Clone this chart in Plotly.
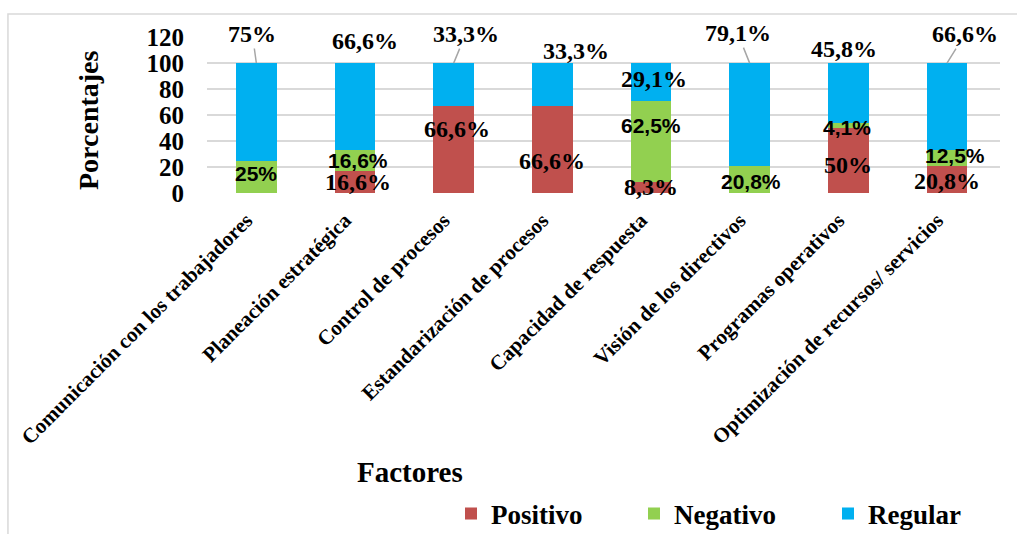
import plotly.graph_objects as go

categories = [
    "Comunicación con los trabajadores",
    "Planeación estratégica",
    "Control de procesos",
    "Estandarización de procesos",
    "Capacidad de respuesta",
    "Visión de los directivos",
    "Programas operativos",
    "Optimización de recursos/ servicios",
]
positivo = [0, 16.6, 66.6, 66.6, 8.3, 0, 50, 20.8]
negativo = [25, 16.6, 0, 0, 62.5, 20.8, 4.1, 12.5]
regular = [75, 66.6, 33.3, 33.3, 29.1, 79.1, 45.8, 66.6]
y_ticks = [0, 20, 40, 60, 80, 100, 120]

# label placement offsets (pixels) -- style only
pos_shift = [(0, 0), (3, 0), (3, 21), (0, -11), (0, 1), (0, 0), (0, -4), (0, -2)]
neg_shift = [(0, 3), (3, 0), (0, 0), (0, 0), (0, 16), (1, -2), (-1, -2), (8, 2)]
reg_shift = [(-4, 29), (10, 22), (12, 29), (24, 12), (3, -16), (-12, 30), (-4, 14), (18, 29)]
reg_leader = [True, False, True, False, False, True, False, True]

C_POS, C_NEG, C_REG = "#C0504D", "#92D050", "#00B0F0"
SERIF = "Liberation Serif"
SANS = "Liberation Sans"


def fmt(v):
    if abs(v - round(v)) < 1e-9:
        return f"{int(round(v))}%"
    return f"{v:.1f}".replace(".", ",") + "%"


fig = go.Figure()
for name, vals, col, lg in [("Positivo", positivo, C_POS, "legend"),
                            ("Negativo", negativo, C_NEG, "legend2"),
                            ("Regular", regular, C_REG, "legend3")]:
    fig.add_trace(go.Bar(x=categories, y=vals, name=name, marker_color=col,
                         marker_line_width=0, legend=lg, hoverinfo="skip"))

ann = []
lab_font = dict(family=SERIF, size=24, color="black", weight="bold")
sans_font = dict(family=SANS, size=21, color="black", weight="bold")
for i, c in enumerate(categories):
    p, n, r = positivo[i], negativo[i], regular[i]
    if p > 0:
        dx, dy = pos_shift[i]
        ann.append(dict(x=c, y=p / 2, text=fmt(p), showarrow=False, xshift=dx,
                        yshift=dy, font=lab_font))
    if n > 0:
        dx, dy = neg_shift[i]
        ann.append(dict(x=c, y=p + n / 2, text=fmt(n), showarrow=False, xshift=dx,
                        yshift=dy, font=sans_font))
    total = p + n + r
    dx, dy = reg_shift[i]
    if reg_leader[i]:
        ann.append(dict(x=c, y=total, text=fmt(r), showarrow=True, ax=dx, ay=-dy,
                        arrowhead=0, arrowwidth=1.5, arrowcolor="#a6a6a6",
                        standoff=0, font=lab_font))
    else:
        ann.append(dict(x=c, y=total, text=fmt(r), showarrow=False, xshift=dx,
                        yshift=dy, font=lab_font))

ann.append(dict(xref="paper", yref="paper", x=-0.1488, y=0.468, text="Porcentajes",
                textangle=-90, showarrow=False, xanchor="center", yanchor="middle",
                font=dict(family=SERIF, size=28, color="black", weight="bold")))
ann.append(dict(xref="paper", yref="paper", x=0.256, y=-1.788, text="Factores",
                showarrow=False, xanchor="center", yanchor="middle",
                font=dict(family=SERIF, size=29, color="black", weight="bold")))

leg_common = dict(orientation="h", xref="container", yref="container",
                  yanchor="middle", y=0.0375, xanchor="left",
                  font=dict(family=SERIF, size=27, color="black", weight="bold"),
                  bgcolor="rgba(0,0,0,0)", borderwidth=0)

fig.update_layout(
    width=1017, height=534,
    margin=dict(l=207, r=17, t=37, b=341, pad=0),
    paper_bgcolor="white", plot_bgcolor="white",
    barmode="stack", bargap=0.59,
    showlegend=True,
    legend=dict(x=451 / 1017, **leg_common),
    legend2=dict(x=634 / 1017, **leg_common),
    legend3=dict(x=828 / 1017, **leg_common),
    annotations=ann,
    shapes=[dict(type="rect", xref="paper", yref="paper", x0=-0.251, x1=1.06,
                 y0=1.1474, y1=-2.6, line=dict(color="#d9d9d9", width=1.5),
                 layer="below")],
    xaxis=dict(type="category", tickangle=-45, showgrid=False, zeroline=False,
               showline=False, ticks="", ticklabelstandoff=10, ticklabelshift=-10,
               tickfont=dict(family=SERIF, size=21, color="black", weight="bold")),
    yaxis=dict(range=[0, 120], tickvals=y_ticks, showgrid=True, gridcolor="#d9d9d9",
               gridwidth=1.5, zeroline=False, showline=False, ticks="",
               ticklabelstandoff=22,
               tickfont=dict(family=SERIF, size=25, color="black", weight="bold")),
)

fig.write_html("out.html")
